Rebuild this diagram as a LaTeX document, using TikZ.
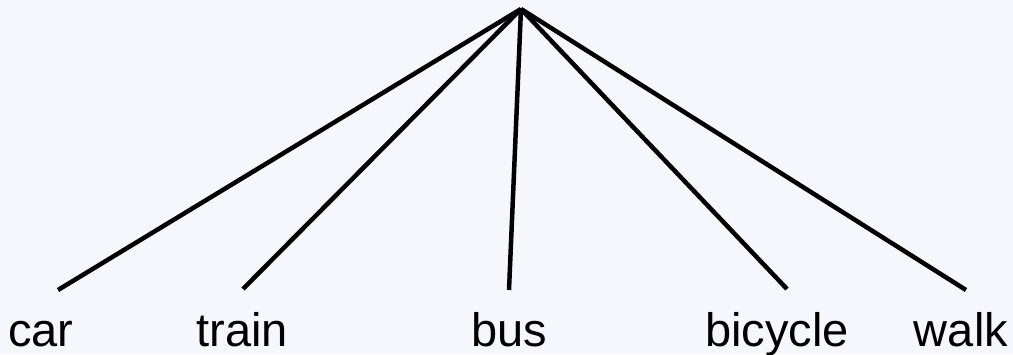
\documentclass[tikz,border=0pt]{standalone}
\usepackage{fontspec}
\setmainfont{Liberation Sans}
\definecolor{bg}{HTML}{F6F6FD}
\begin{document}
\begin{tikzpicture}[x=1pt,y=1pt,
  conn/.style={line width=4.5pt, line cap=butt},
  lbl/.style={anchor=base, inner sep=0pt, font=\fontsize{47}{56}\selectfont}]
\fill[bg] (0,0) rectangle (1013,354);
\useasboundingbox (0,0) rectangle (1013,354);
\coordinate (top) at (521,345);
\coordinate (e1) at (58,64);
\coordinate (e2) at (243,65);
\coordinate (e3) at (509,64);
\coordinate (e4) at (787,65);
\coordinate (e5) at (966,64);
\node[lbl] (car) at (41,8) {car};
\node[lbl] (train) at (242,8) {train};
\node[lbl] (bus) at (509,8) {bus};
\node[lbl] (bicycle) at (777,8) {bicycle};
\node[lbl] (walk) at (961,8) {walk};
\foreach \e in {e1,e2,e3,e4,e5} \draw[conn] (top) -- (\e);
\end{tikzpicture}
\end{document}
